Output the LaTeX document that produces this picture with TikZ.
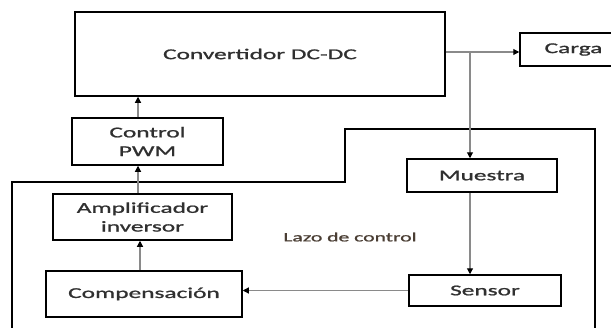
\documentclass[tikz,border=0pt]{standalone}
\usepackage{fontspec}
\usetikzlibrary{arrows.meta}
\newfontfamily\dfont[FakeStretch=1.69,FakeBold=1.2]{Carlito}
\definecolor{txt}{HTML}{303030}
\definecolor{lazo}{HTML}{4A3E34}
\definecolor{conncol}{HTML}{8A8A8A}
\tikzset{
  blk/.style={draw=black, line width=1.5pt, rectangle, inner sep=0pt, align=center,
    font=\dfont\fontsize{15}{18.7}\selectfont, text=txt},
  conn/.style={draw=conncol, line width=1.1pt, -{Triangle[length=6pt,width=6pt,color=black]}},
  boundary/.style={draw=black, line width=2pt}
}
\begin{document}
\begin{tikzpicture}[x=1pt,y=-1pt]
\useasboundingbox (0,0) rectangle (611,327);
\clip (0,0) rectangle (611,327);
\fill[white] (0,0) rectangle (611,327);
% outer loop boundary
\draw[boundary] (12,335) -- (12,182) -- (345,182) -- (345,129) -- (595,129) -- (595,335);
% blocks
\node[blk, minimum width=370pt, minimum height=84pt] (conv) at (260,54) {Convertidor DC-DC};
\node[blk, minimum width=100pt, minimum height=33pt] (carga) at (570,49.5) {\hspace*{-1pt}Carga\hspace*{-8pt}};
\node[blk, minimum width=151pt, minimum height=47pt] (ctrl) at (147.5,141.5) {Control\\PWM};
\node[blk, minimum width=179pt, minimum height=46pt] (amp) at (142.5,217) {Amplificador\\inversor};
\node[blk, minimum width=196pt, minimum height=46pt] (comp) at (144,294) {Compensación};
\node[blk, minimum width=150pt, minimum height=33pt] (mues) at (482,175.5) {Muestra};
\node[blk, minimum width=152pt, minimum height=31pt] (sens) at (485,290.5) {Sensor};
\node[font=\dfont\fontsize{12.8}{15}\selectfont, text=lazo] (lazo) at (350,237) {Lazo de control};
% connectors
\coordinate (br) at (470,52);
\draw[conn] (conv.east |- br) -- (carga.west |- br);
\draw[conn] (br) -- (mues.north -| br);
\draw[conn] (mues.south -| br) -- (sens.north -| br);
\draw[conn] (sens.west) -- (comp.east |- sens.west);
\draw[conn] ([xshift=-4pt]comp.north) -- ([xshift=-4pt]comp.north |- amp.south);
\draw[conn] ([xshift=-4.5pt]amp.north) -- ([xshift=-4.5pt]amp.north |- ctrl.south);
\draw[conn] ([xshift=-9.5pt]ctrl.north) -- ([xshift=-9.5pt]ctrl.north |- conv.south);
\end{tikzpicture}
\end{document}
